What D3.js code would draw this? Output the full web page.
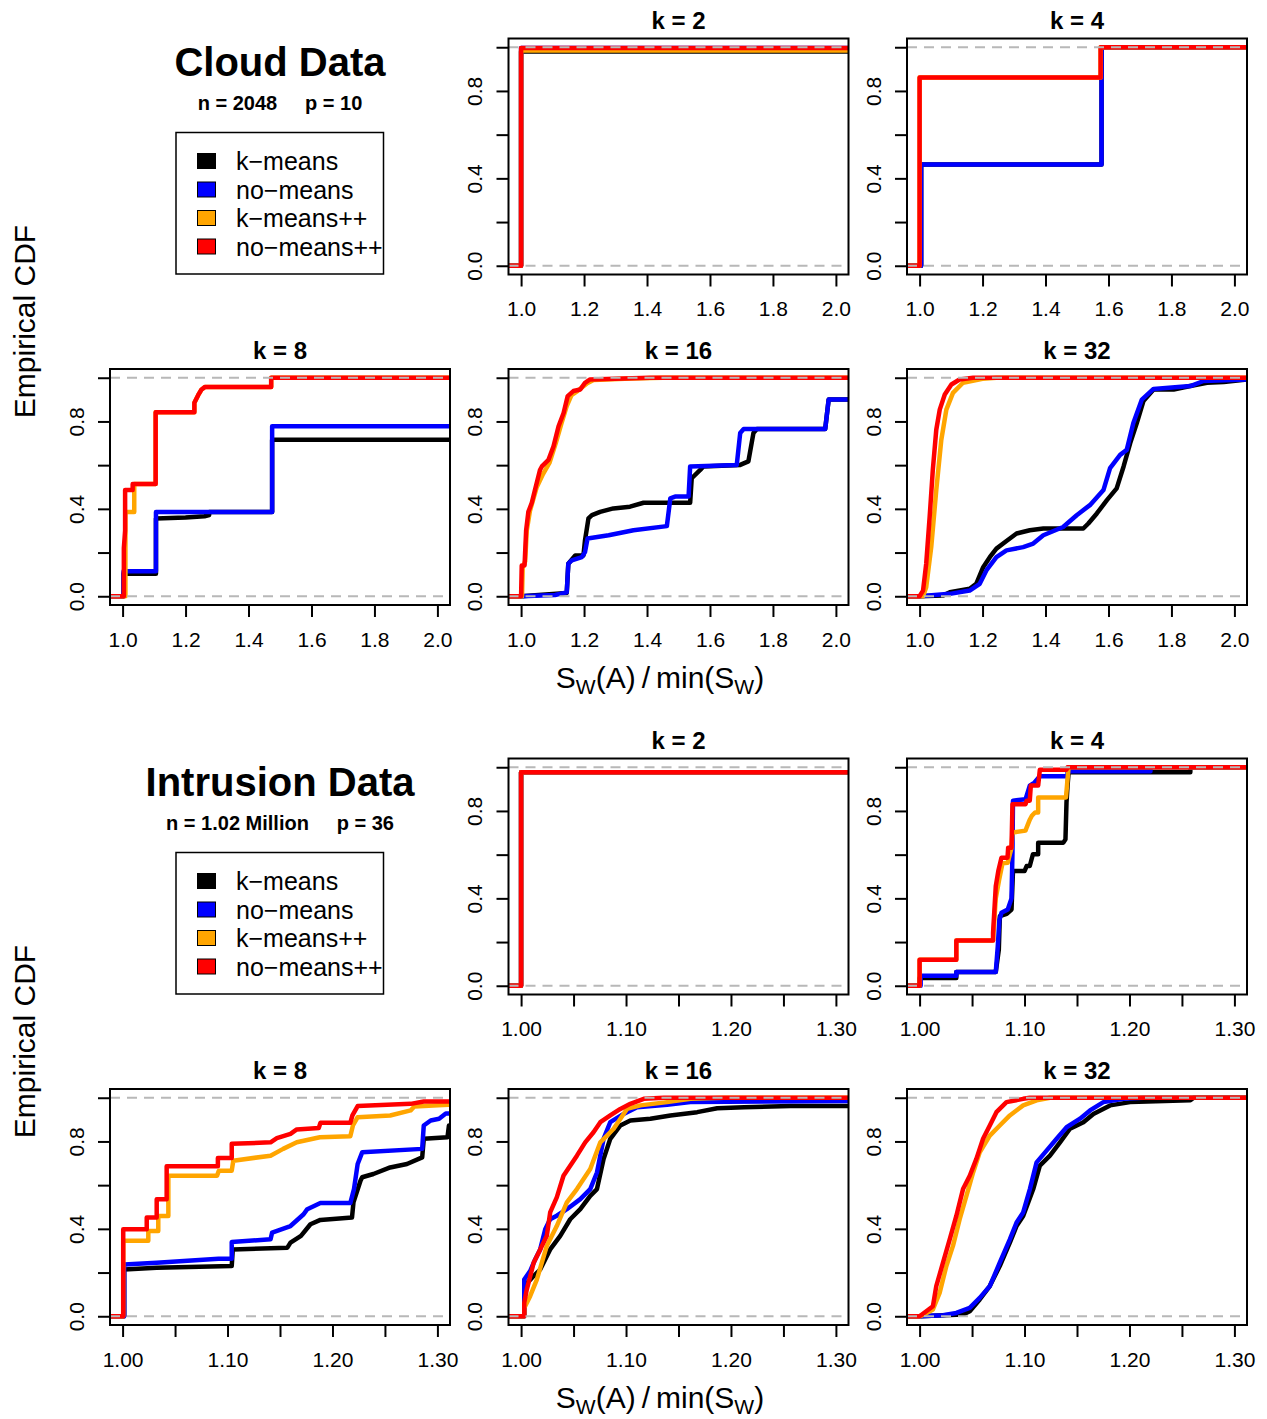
<!DOCTYPE html>
<html>
<head>
<meta charset="utf-8">
<script src="https://cdn.jsdelivr.net/npm/d3@7"></script>
<style>
  body { margin: 0; background: #fff; }
  text { font-family: "Liberation Sans", Arial, Helvetica, sans-serif; }
</style>
</head>
<body>
<div id="chart"></div>
<script>
// ---------- data ----------
const methodNames  = ["k\u2212means", "no\u2212means", "k\u2212means++", "no\u2212means++"];
const methodColors = ["black", "blue", "orange", "red"];
const panelK = [2, 4, 8, 16, 32];

const yTicks      = [0, 0.2, 0.4, 0.6, 0.8, 1.0];
const yTickLabels = ["0.0", "", "0.4", "", "0.8", ""];
const cloudXTicks  = [1.0, 1.2, 1.4, 1.6, 1.8, 2.0];
const cloudXLabels = ["1.0", "1.2", "1.4", "1.6", "1.8", "2.0"];
const intrXTicks   = [1.00, 1.05, 1.10, 1.15, 1.20, 1.25, 1.30];
const intrXLabels  = ["1.00", "", "1.10", "", "1.20", "", "1.30"];

// each panel: [k-means, no-means, k-means++, no-means++], vertices [x, ECDF]
const cloudK2 = [
  [[1.0, 0], [1.0, 0.980]],
  [[1.0, 0], [1.0, 0.997]],
  [[1.0, 0], [1.0, 0.985]],
  [[1.0, 0], [1.0, 0.997]]
];
const cloudK4 = [
  [[1.005, 0], [1.005, 0.463], [1.578, 0.463], [1.578, 1.0]],
  [[1.005, 0], [1.005, 0.463], [1.578, 0.463], [1.578, 1.0]],
  [[1.0, 0], [1.0, 0.862], [1.575, 0.862], [1.575, 1.0]],
  [[1.0, 0], [1.0, 0.862], [1.575, 0.862], [1.575, 1.0]]
];
const cloudK8 = [
  [[1.003, 0], [1.003, 0.103], [1.106, 0.103], [1.106, 0.356], [1.2, 0.36], [1.26, 0.366], [1.275, 0.372],
   [1.275, 0.386], [1.475, 0.386], [1.475, 0.716]],
  [[1.003, 0], [1.003, 0.115], [1.106, 0.115], [1.106, 0.386], [1.475, 0.386], [1.475, 0.778]],
  [[1.009, 0], [1.009, 0.386], [1.037, 0.386], [1.037, 0.514], [1.105, 0.514], [1.105, 0.842], [1.228, 0.842],
   [1.228, 0.885], [1.24, 0.92], [1.25, 0.945], [1.262, 0.958], [1.472, 0.958], [1.472, 1.0]],
  [[1.004, 0], [1.004, 0.22], [1.008, 0.30], [1.008, 0.486], [1.032, 0.486], [1.032, 0.514], [1.105, 0.514],
   [1.105, 0.842], [1.228, 0.842], [1.228, 0.885], [1.24, 0.92], [1.25, 0.945], [1.262, 0.958], [1.472, 0.958],
   [1.472, 1.0]]
];
const cloudK16 = [
  [[1.0, 0], [1.145, 0.015], [1.150, 0.149], [1.172, 0.187], [1.198, 0.187], [1.203, 0.256], [1.214, 0.356],
   [1.225, 0.371], [1.251, 0.386], [1.293, 0.402], [1.346, 0.41], [1.389, 0.428], [1.537, 0.428], [1.542, 0.54],
   [1.569, 0.578], [1.579, 0.594], [1.696, 0.601], [1.722, 0.617], [1.738, 0.747], [1.749, 0.765],
   [1.966, 0.765], [1.977, 0.9]],
  [[1.0, 0], [1.108, 0.006], [1.145, 0.018], [1.150, 0.149], [1.161, 0.164], [1.193, 0.179], [1.203, 0.202],
   [1.211, 0.264], [1.278, 0.279], [1.357, 0.302], [1.463, 0.321], [1.474, 0.448], [1.489, 0.456],
   [1.532, 0.456], [1.537, 0.594], [1.685, 0.601], [1.696, 0.747], [1.707, 0.765], [1.966, 0.765],
   [1.977, 0.9]],
  [[1.003, 0], [1.005, 0.13], [1.013, 0.16], [1.018, 0.3], [1.028, 0.39], [1.04, 0.45], [1.05, 0.5],
   [1.07, 0.56], [1.09, 0.61], [1.11, 0.7], [1.128, 0.79], [1.145, 0.87], [1.16, 0.92], [1.18, 0.94],
   [1.21, 0.975], [1.23, 0.99], [1.35, 0.996], [1.45, 1.0]],
  [[1.0, 0], [1.002, 0.141], [1.011, 0.141], [1.016, 0.302], [1.023, 0.386], [1.034, 0.428], [1.044, 0.486],
   [1.06, 0.578], [1.066, 0.594], [1.087, 0.624], [1.103, 0.686], [1.119, 0.778], [1.135, 0.839],
   [1.148, 0.916], [1.166, 0.939], [1.188, 0.946], [1.203, 0.977], [1.219, 0.992], [1.325, 0.997], [1.41, 1.0]]
];
const cloudK32 = [
  [[1.0, 0], [1.074, 0.003], [1.096, 0.018], [1.159, 0.034], [1.18, 0.057], [1.202, 0.133], [1.223, 0.179],
   [1.244, 0.218], [1.276, 0.253], [1.308, 0.287], [1.35, 0.302], [1.393, 0.31], [1.52, 0.31], [1.536, 0.333],
   [1.563, 0.379], [1.595, 0.44], [1.626, 0.494], [1.648, 0.594], [1.669, 0.701], [1.69, 0.793],
   [1.711, 0.893], [1.743, 0.946], [1.807, 0.946], [1.86, 0.962], [1.913, 0.977], [1.966, 0.98], [2.04, 0.992]],
  [[1.0, 0], [1.096, 0.011], [1.159, 0.026], [1.191, 0.057], [1.212, 0.118], [1.244, 0.179], [1.276, 0.21],
   [1.329, 0.225], [1.361, 0.241], [1.393, 0.279], [1.456, 0.317], [1.499, 0.371], [1.541, 0.417],
   [1.584, 0.486], [1.605, 0.586], [1.637, 0.647], [1.658, 0.67], [1.679, 0.793], [1.706, 0.9],
   [1.743, 0.949], [1.86, 0.962], [1.902, 0.985], [2.04, 0.992]],
  [[1.011, 0], [1.021, 0.041], [1.037, 0.225], [1.053, 0.486], [1.069, 0.716], [1.085, 0.854], [1.106, 0.931],
   [1.138, 0.977], [1.2, 0.995], [1.244, 1.0]],
  [[1.0, 0], [1.011, 0.026], [1.021, 0.149], [1.032, 0.364], [1.042, 0.578], [1.053, 0.762], [1.064, 0.854],
   [1.08, 0.923], [1.101, 0.969], [1.127, 0.992], [1.17, 1.0]]
];

const intrK2 = [
  [[1.0, 0], [1.0, 0.977]],
  [[1.0, 0], [1.0, 0.977]],
  [[1.0, 0], [1.0, 0.977]],
  [[1.0, 0], [1.0, 0.977]]
];
const intrK4 = [
  [[1.0, 0], [1.0, 0.035], [1.035, 0.035], [1.035, 0.063], [1.0726, 0.063], [1.0755, 0.165], [1.0765, 0.319],
   [1.083, 0.329], [1.0876, 0.349], [1.089, 0.525], [1.100, 0.525], [1.102, 0.548], [1.105, 0.548],
   [1.108, 0.602], [1.113, 0.602], [1.113, 0.655], [1.137, 0.655], [1.139, 0.67], [1.140, 0.839],
   [1.141, 0.916], [1.142, 0.977], [1.258, 0.977], [1.258, 1.0]],
  [[1.001, 0], [1.001, 0.046], [1.035, 0.046], [1.035, 0.063], [1.0726, 0.063], [1.0745, 0.18], [1.076, 0.30],
   [1.078, 0.334], [1.084, 0.349], [1.0876, 0.4], [1.0885, 0.609], [1.089, 0.847], [1.101, 0.854],
   [1.105, 0.916], [1.1095, 0.93], [1.1146, 0.959], [1.141, 0.959], [1.141, 0.982], [1.22, 0.982], [1.22, 1.0]],
  [[1.0, 0], [1.0, 0.119], [1.035, 0.119], [1.035, 0.207], [1.070, 0.207], [1.0726, 0.40], [1.076, 0.49],
   [1.079, 0.56], [1.084, 0.563], [1.0876, 0.632], [1.0885, 0.701], [1.101, 0.71], [1.102, 0.724],
   [1.105, 0.76], [1.107, 0.778], [1.11, 0.793], [1.113, 0.793], [1.113, 0.862], [1.1395, 0.862],
   [1.141, 0.946], [1.142, 1.0]],
  [[1.0, 0], [1.0, 0.119], [1.035, 0.119], [1.035, 0.207], [1.070, 0.207], [1.070, 0.242], [1.0726, 0.456],
   [1.075, 0.525], [1.078, 0.586], [1.0838, 0.586], [1.0844, 0.632], [1.0876, 0.632], [1.0885, 0.831],
   [1.101, 0.831], [1.102, 0.847], [1.105, 0.847], [1.106, 0.916], [1.113, 0.916], [1.1146, 0.989],
   [1.140, 0.989], [1.141, 1.0]]
];
const intrK8 = [
  [[1.0015, 0], [1.0015, 0.214], [1.0325, 0.222], [1.104, 0.23], [1.105, 0.306], [1.157, 0.314], [1.16, 0.337],
   [1.17, 0.368], [1.179, 0.421], [1.1885, 0.441], [1.2186, 0.452], [1.22, 0.521], [1.2267, 0.62],
   [1.2283, 0.636], [1.239, 0.651], [1.255, 0.681], [1.271, 0.697], [1.2855, 0.727], [1.287, 0.812],
   [1.3096, 0.819], [1.311, 0.873]],
  [[1.0015, 0], [1.0015, 0.237], [1.0325, 0.245], [1.0914, 0.263], [1.104, 0.263], [1.104, 0.34], [1.141, 0.352],
   [1.1425, 0.383], [1.16, 0.413], [1.1725, 0.467], [1.176, 0.49], [1.1885, 0.518], [1.217, 0.518],
   [1.2205, 0.582], [1.224, 0.697], [1.2283, 0.75], [1.2855, 0.766], [1.287, 0.873], [1.2936, 0.896],
   [1.3016, 0.904], [1.308, 0.928]],
  [[1.0006, 0], [1.0006, 0.345], [1.0245, 0.345], [1.0245, 0.39], [1.034, 0.39], [1.034, 0.459], [1.0436, 0.459],
   [1.0436, 0.643], [1.09, 0.643], [1.0917, 0.666], [1.104, 0.666], [1.1055, 0.712], [1.141, 0.735],
   [1.153, 0.766], [1.166, 0.796], [1.188, 0.819], [1.217, 0.824], [1.2195, 0.873], [1.224, 0.911],
   [1.255, 0.919], [1.2745, 0.942], [1.278, 0.96], [1.31, 0.968]],
  [[1.0006, 0], [1.0006, 0.398], [1.023, 0.398], [1.023, 0.452], [1.0325, 0.452], [1.0325, 0.536], [1.042, 0.536],
   [1.042, 0.686], [1.0908, 0.686], [1.0908, 0.724], [1.104, 0.724], [1.104, 0.789], [1.141, 0.796],
   [1.147, 0.815], [1.16, 0.835], [1.166, 0.855], [1.187, 0.862], [1.1885, 0.885], [1.217, 0.885],
   [1.219, 0.919], [1.224, 0.962], [1.2745, 0.972], [1.287, 0.983]]
];
const intrK16 = [
  [[1.003, 0], [1.003, 0.138], [1.012, 0.184], [1.0182, 0.214], [1.0277, 0.306], [1.0373, 0.368], [1.0468, 0.444],
   [1.0564, 0.49], [1.0659, 0.551], [1.0723, 0.582], [1.0786, 0.72], [1.085, 0.812], [1.0946, 0.873],
   [1.1041, 0.896], [1.1232, 0.904], [1.1423, 0.919], [1.1678, 0.934], [1.1869, 0.952], [1.2124, 0.957],
   [1.2570, 0.962], [1.3127, 0.962]],
  [[1.003, 0], [1.003, 0.168], [1.0086, 0.207], [1.0134, 0.26], [1.0182, 0.306], [1.023, 0.398], [1.0277, 0.444],
   [1.034, 0.46], [1.0436, 0.49], [1.0564, 0.536], [1.0659, 0.582], [1.0723, 0.658], [1.0786, 0.812],
   [1.085, 0.888], [1.0977, 0.926], [1.1105, 0.957], [1.1391, 0.968], [1.1614, 0.98], [1.3127, 0.985]],
  [[1.003, 0], [1.003, 0.038], [1.0086, 0.092], [1.015, 0.168], [1.0245, 0.322], [1.034, 0.413], [1.0436, 0.521],
   [1.0532, 0.582], [1.0659, 0.674], [1.0755, 0.796], [1.0882, 0.858], [1.1009, 0.949], [1.1137, 0.965],
   [1.1391, 0.98], [1.1614, 0.995], [1.1932, 1.0]],
  [[1.003, 0], [1.003, 0.061], [1.0054, 0.122], [1.012, 0.245], [1.0182, 0.306], [1.0245, 0.368], [1.0277, 0.475],
   [1.034, 0.544], [1.0404, 0.643], [1.0468, 0.689], [1.0532, 0.735], [1.0611, 0.796], [1.069, 0.842],
   [1.0755, 0.888], [1.085, 0.919], [1.0946, 0.949], [1.1041, 0.972], [1.1169, 0.995], [1.136, 1.0]]
];
const intrK32 = [
  [[1.0, 0], [1.0414, 0.008], [1.0478, 0.023], [1.0573, 0.077], [1.0669, 0.138], [1.0764, 0.23], [1.086, 0.337],
   [1.0924, 0.413], [1.0987, 0.459], [1.1083, 0.582], [1.1146, 0.689], [1.1242, 0.735], [1.1338, 0.796],
   [1.1433, 0.858], [1.1561, 0.888], [1.1656, 0.926], [1.1815, 0.965], [1.2006, 0.98], [1.258, 0.988],
   [1.2611, 1.0]],
  [[1.0, 0], [1.0223, 0.005], [1.035, 0.015], [1.0478, 0.038], [1.0573, 0.084], [1.0669, 0.138], [1.0764, 0.245],
   [1.086, 0.352], [1.0924, 0.429], [1.0987, 0.475], [1.1051, 0.582], [1.1115, 0.704], [1.121, 0.758],
   [1.1306, 0.812], [1.1401, 0.865], [1.1529, 0.904], [1.1624, 0.942], [1.1752, 0.98], [1.1943, 0.995],
   [1.2134, 1.0]],
  [[1.0, 0], [1.0032, 0.005], [1.0127, 0.031], [1.0191, 0.107], [1.0255, 0.23], [1.0318, 0.322], [1.0382, 0.444],
   [1.0446, 0.551], [1.051, 0.658], [1.0573, 0.75], [1.0669, 0.827], [1.0764, 0.873], [1.086, 0.919],
   [1.0987, 0.965], [1.1115, 0.988], [1.1242, 1.0]],
  [[1.0, 0], [1.0064, 0.023], [1.0127, 0.046], [1.0159, 0.138], [1.0223, 0.245], [1.0287, 0.352], [1.035, 0.459],
   [1.0414, 0.582], [1.0478, 0.643], [1.0541, 0.72], [1.0605, 0.812], [1.0669, 0.873], [1.0732, 0.934],
   [1.0828, 0.98], [1.0987, 0.995], [1.1051, 1.0]]
];

// ---------- layout ----------
const W = 1267, H = 1419;
const colLeft = [110, 508.5, 907], boxW = 340;
const rowTop = [38.5, 369], boxH = 236;
const slots = [[0, 1], [0, 2], [1, 0], [1, 1], [1, 2]];   // [row, col] of each k panel
const FONT = '"Liberation Sans", Arial, Helvetica, sans-serif';

const sections = [
  { off: 0,   title: "Cloud Data",     sub: "n = 2048     p = 10",
    xlim: [1, 2],   xt: cloudXTicks, xl: cloudXLabels,
    panels: [cloudK2, cloudK4, cloudK8, cloudK16, cloudK32] },
  { off: 720, title: "Intrusion Data", sub: "n = 1.02 Million     p = 36",
    xlim: [1, 1.3], xt: intrXTicks,  xl: intrXLabels,
    panels: [intrK2, intrK4, intrK8, intrK16, intrK32] }
];

const svg = d3.select("#chart").append("svg")
  .attr("width", W).attr("height", H)
  .style("background", "#fff");

sections.forEach(function (sec, si) {
  const g = svg.append("g").attr("transform", "translate(0," + sec.off + ")");

  // title block
  g.append("text").attr("x", 280).attr("y", 76)
    .attr("text-anchor", "middle").attr("font-size", 40).attr("font-weight", "bold")
    .text(sec.title);
  g.append("text").attr("x", 280).attr("y", 110)
    .attr("text-anchor", "middle").attr("font-size", 20).attr("font-weight", "bold")
    .style("white-space", "pre")
    .text(sec.sub);

  // legend
  const lg = g.append("g");
  lg.append("rect").attr("x", 176).attr("y", 132.5).attr("width", 207.5).attr("height", 141.5)
    .attr("fill", "none").attr("stroke", "black").attr("stroke-width", 1.5);
  methodNames.forEach(function (name, i) {
    const cy = 161 + i * 28.5;
    lg.append("rect").attr("x", 197.5).attr("y", cy - 7.5).attr("width", 18).attr("height", 15)
      .attr("fill", methodColors[i]).attr("stroke", "black").attr("stroke-width", 1);
    lg.append("text").attr("x", 236).attr("y", cy + 9).attr("font-size", 25).text(name);
  });

  // outer axis titles
  g.append("text").attr("transform", "translate(35,321.5) rotate(-90)")
    .attr("text-anchor", "middle").attr("font-size", 30).text("Empirical CDF");
  const xt = g.append("text").attr("x", 660).attr("y", 688)
    .attr("text-anchor", "middle").attr("font-size", 30);
  xt.append("tspan").text("S");
  xt.append("tspan").attr("font-size", 21).attr("dy", 6).text("W");
  xt.append("tspan").attr("dy", -6).text("(A)\u2009/\u2009min(S");
  xt.append("tspan").attr("font-size", 21).attr("dy", 6).text("W");
  xt.append("tspan").attr("dy", -6).text(")");

  // panels
  sec.panels.forEach(function (series, pi) {
    const row = slots[pi][0], col = slots[pi][1];
    const left = colLeft[col], top = rowTop[row];
    const pad = 0.04 * (sec.xlim[1] - sec.xlim[0]);
    const x = d3.scaleLinear().domain([sec.xlim[0] - pad, sec.xlim[1] + pad]).range([left, left + boxW]);
    const y = d3.scaleLinear().domain([-0.04, 1.04]).range([top + boxH, top]);
    const clipId = "clip" + si + "_" + pi;

    g.append("clipPath").attr("id", clipId)
      .append("rect").attr("x", left).attr("y", top).attr("width", boxW).attr("height", boxH);

    const pg = g.append("g");

    // ecdf lines
    const line = d3.line().x(d => x(d[0])).y(d => y(d[1]));
    const lines = pg.append("g").attr("clip-path", "url(#" + clipId + ")");
    series.forEach(function (pts, mi) {
      const full = [[x.domain()[0], 0]].concat(pts, [[x.domain()[1], pts[pts.length - 1][1]]]);
      lines.append("path").attr("d", line(full))
        .attr("fill", "none").attr("stroke", methodColors[mi]).attr("stroke-width", 4.5)
        .attr("stroke-linejoin", "round").attr("stroke-linecap", "round");
    });

    // 0 / 1 reference lines
    [0, 1].forEach(function (h) {
      pg.append("line").attr("x1", left).attr("x2", left + boxW)
        .attr("y1", y(h)).attr("y2", y(h))
        .attr("stroke", "#b8b8b8").attr("stroke-width", 2).attr("stroke-dasharray", "10,7");
    });

    // box
    pg.append("rect").attr("x", left).attr("y", top).attr("width", boxW).attr("height", boxH)
      .attr("fill", "none").attr("stroke", "black").attr("stroke-width", 2);

    // x axis
    const xa = pg.append("g").attr("transform", "translate(0," + (top + boxH) + ")")
      .call(d3.axisBottom(x).tickValues(sec.xt).tickSize(12).tickPadding(15)
        .tickFormat((d, i) => sec.xl[i]));
    xa.select(".domain").remove();
    xa.selectAll("line").attr("stroke-width", 2);
    xa.selectAll("text").attr("font-size", 21).attr("font-family", FONT).attr("fill", "black");

    // y axis
    const ya = pg.append("g").attr("transform", "translate(" + left + ",0)")
      .call(d3.axisLeft(y).tickValues(yTicks).tickSize(12).tickFormat((d, i) => yTickLabels[i]));
    ya.select(".domain").remove();
    ya.selectAll("line").attr("stroke-width", 2);
    ya.selectAll("text")
      .attr("font-size", 21).attr("font-family", FONT).attr("fill", "black")
      .attr("text-anchor", "middle").attr("dy", null)
      .attr("x", null)
      .attr("transform", "translate(-26.5,0) rotate(-90)");

    // panel title
    pg.append("text").attr("x", left + boxW / 2).attr("y", top - 10)
      .attr("text-anchor", "middle").attr("font-size", 24).attr("font-weight", "bold")
      .text("k = " + panelK[pi]);
  });
});
</script>
</body>
</html>
